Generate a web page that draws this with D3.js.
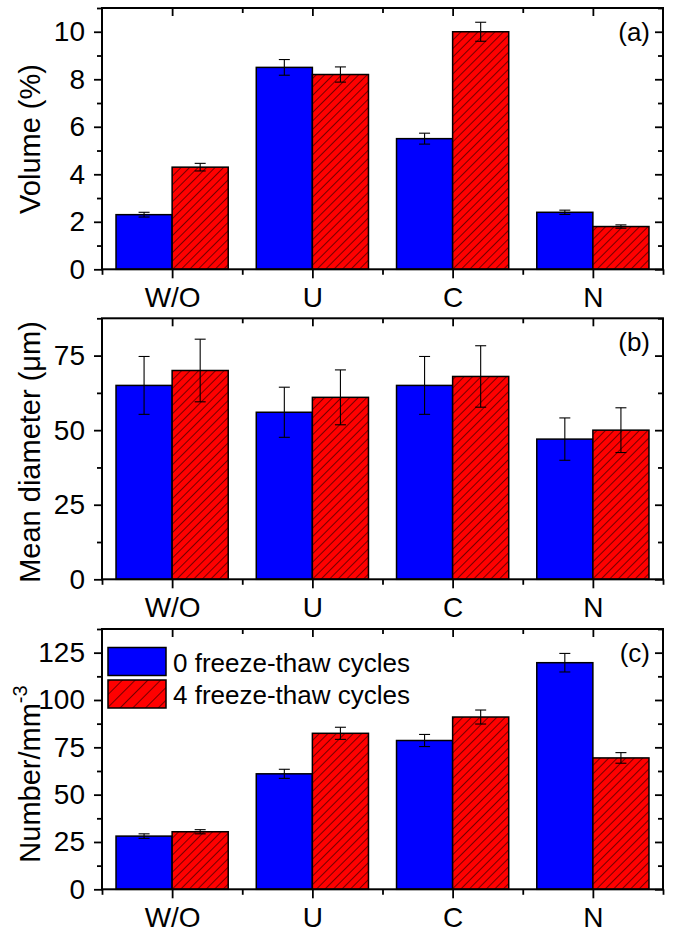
<!DOCTYPE html>
<html>
<head>
<meta charset="utf-8">
<script src="https://cdn.jsdelivr.net/npm/d3@7"></script>
<style>
  html, body { margin: 0; padding: 0; background: #fff; }
  svg { display: block; }
  text { font-family: "Liberation Sans", Arial, sans-serif; fill: #000; }
</style>
</head>
<body>
<svg id="chart" width="675" height="932"></svg>
<script>
// ---------- data ----------
const categories = ["W/O", "U", "C", "N"];
const seriesNames = ["0 freeze-thaw cycles", "4 freeze-thaw cycles"];

const volume0 = [2.3, 8.5, 5.5, 2.4];
const volume0Err = [0.1, 0.33, 0.23, 0.09];
const volume4 = [4.3, 8.2, 10.0, 1.8];
const volume4Err = [0.16, 0.32, 0.4, 0.07];

const diameter0 = [65, 56, 65, 47];
const diameter0Err = [9.7, 8.4, 9.7, 7.1];
const diameter4 = [70, 61, 68, 50];
const diameter4Err = [10.5, 9.2, 10.3, 7.5];

const number0 = [28.1, 61, 78.6, 119.7];
const number0Err = [1.2, 2.4, 3.2, 4.9];
const number4 = [30.4, 82.4, 91, 69.4];
const number4Err = [1.1, 3.2, 3.7, 2.8];

const volumeTicks = [0, 2, 4, 6, 8, 10];
const diameterTicks = [0, 25, 50, 75];
const numberTicks = [0, 25, 50, 75, 100, 125];

// ---------- layout ----------
const svg = d3.select("#chart");
const X0 = 102, X1 = 663;
const panels = [
  { top: 8, bottom: 269.3, max: 11, ticks: volumeTicks, minorStep: 1, v0: volume0, e0: volume0Err, v4: volume4, e4: volume4Err, label: "(a)", title: "Volume (%)", titleY: 139, legend: false },
  { top: 318.3, bottom: 579.3, max: 87.5, ticks: diameterTicks, minorStep: 12.5, v0: diameter0, e0: diameter0Err, v4: diameter4, e4: diameter4Err, label: "(b)", title: "Mean diameter (μm)", titleY: 452, legend: false },
  { top: 629, bottom: 889.3, max: 137.5, ticks: numberTicks, minorStep: 12.5, v0: number0, e0: number0Err, v4: number4, e4: number4Err, label: "(c)", title: "Number/mm", sup: "-3", titleY: 774, legend: true }
];

const BLUE = "#0000ff", RED = "#ff0000";

const defs = svg.append("defs");
function hatch(id, size) {
  const p = defs.append("pattern").attr("id", id)
    .attr("patternUnits", "userSpaceOnUse")
    .attr("width", size).attr("height", size)
    .attr("patternTransform", "rotate(45)");
  p.append("rect").attr("width", size).attr("height", size).attr("fill", RED);
  p.append("line").attr("x1", 0).attr("y1", 0).attr("x2", 0).attr("y2", size)
    .attr("stroke", "#000").attr("stroke-width", 1.1);
}
hatch("hatchBar", 6);
hatch("hatchLeg", 9);

const x = d3.scaleLinear().domain([0.5, 4.5]).range([X0, X1]);
const barW = 0.4;
const majorX = d3.range(1, 5);
const minorX = [0.5, 1.5, 2.5, 3.5, 4.5];

panels.forEach(P => {
  const y = d3.scaleLinear().domain([0, P.max]).range([P.bottom, P.top]);
  const g = svg.append("g");
  const minorY = d3.range(P.minorStep === 1 ? 1 : P.minorStep, P.max + 0.001, P.minorStep)
    .filter(v => !P.ticks.some(t => Math.abs(t - v) < 1e-6));

  // bars
  const data0 = categories.map((c, i) => ({ i: i + 1, v: P.v0[i], e: P.e0[i] }));
  const data4 = categories.map((c, i) => ({ i: i + 1, v: P.v4[i], e: P.e4[i] }));
  g.selectAll(".b0").data(data0).enter().append("rect")
    .attr("x", d => x(d.i - barW)).attr("width", d => x(d.i) - x(d.i - barW))
    .attr("y", d => y(d.v)).attr("height", d => y(0) - y(d.v))
    .attr("fill", BLUE).attr("stroke", "#000").attr("stroke-width", 1.5);
  g.selectAll(".b4").data(data4).enter().append("rect")
    .attr("x", d => x(d.i)).attr("width", d => x(d.i + barW) - x(d.i))
    .attr("y", d => y(d.v)).attr("height", d => y(0) - y(d.v))
    .attr("fill", "url(#hatchBar)").attr("stroke", "#000").attr("stroke-width", 1.5);

  // error bars
  const errs = data0.map(d => ({ cx: d.i - barW / 2, v: d.v, e: d.e }))
    .concat(data4.map(d => ({ cx: d.i + barW / 2, v: d.v, e: d.e })));
  const cap = 5.5;
  errs.forEach(d => {
    const cx = x(d.cx);
    const eg = g.append("g").attr("stroke", "#000").attr("stroke-width", 1.1);
    eg.append("line").attr("x1", cx).attr("x2", cx).attr("y1", y(d.v + d.e)).attr("y2", y(d.v - d.e));
    eg.append("line").attr("x1", cx - cap).attr("x2", cx + cap).attr("y1", y(d.v + d.e)).attr("y2", y(d.v + d.e));
    eg.append("line").attr("x1", cx - cap).attr("x2", cx + cap).attr("y1", y(d.v - d.e)).attr("y2", y(d.v - d.e));
  });

  // axes
  const styleAxis = sel => {
    sel.select(".domain").remove();
    sel.selectAll("line").attr("stroke", "#000").attr("stroke-width", 1.8);
    sel.selectAll("text").attr("font-size", 28).attr("font-family", "'Liberation Sans', Arial, sans-serif").attr("fill", "#000");
  };
  // left major with labels
  g.append("g").attr("transform", `translate(${X0},0)`)
    .call(d3.axisLeft(y).tickValues(P.ticks).tickSize(8).tickPadding(9).tickFormat(d3.format("d")))
    .call(styleAxis);
  g.append("g").attr("transform", `translate(${X0},0)`)
    .call(d3.axisLeft(y).tickValues(minorY).tickSize(5).tickFormat(""))
    .call(styleAxis);
  // right (inward)
  g.append("g").attr("transform", `translate(${X1},0)`)
    .call(d3.axisLeft(y).tickValues(P.ticks).tickSize(8).tickFormat(""))
    .call(styleAxis);
  g.append("g").attr("transform", `translate(${X1},0)`)
    .call(d3.axisLeft(y).tickValues(minorY).tickSize(5).tickFormat(""))
    .call(styleAxis);
  // bottom
  g.append("g").attr("transform", `translate(0,${P.bottom})`)
    .call(d3.axisBottom(x).tickValues(majorX).tickSize(9).tickPadding(9).tickFormat(d => categories[d - 1]))
    .call(styleAxis);
  g.append("g").attr("transform", `translate(0,${P.bottom})`)
    .call(d3.axisBottom(x).tickValues(minorX).tickSize(5.5).tickFormat(""))
    .call(styleAxis);
  // top (inward)
  g.append("g").attr("transform", `translate(0,${P.top})`)
    .call(d3.axisBottom(x).tickValues(majorX).tickSize(8).tickFormat(""))
    .call(styleAxis);
  g.append("g").attr("transform", `translate(0,${P.top})`)
    .call(d3.axisBottom(x).tickValues(minorX.slice(1, 4)).tickSize(5).tickFormat(""))
    .call(styleAxis);

  // frame
  g.append("rect").attr("x", X0).attr("y", P.top).attr("width", X1 - X0).attr("height", P.bottom - P.top)
    .attr("fill", "none").attr("stroke", "#000").attr("stroke-width", 2);

  // panel label
  g.append("text").attr("x", 650).attr("y", P.top + 33).attr("text-anchor", "end")
    .attr("font-size", 26).text(P.label);

  // y title
  const t = g.append("text").attr("transform", `translate(40,${P.titleY}) rotate(-90)`)
    .attr("text-anchor", "middle").attr("font-size", 29).text(P.title);
  if (P.sup) {
    t.append("tspan").attr("font-size", 20).attr("dy", -13).text(P.sup);
  }

  // legend
  if (P.legend) {
    const lg = g.append("g");
    const rows = [{ fill: BLUE, name: seriesNames[0], y: 647.5 }, { fill: "url(#hatchLeg)", name: seriesNames[1], y: 680 }];
    rows.forEach(r => {
      lg.append("rect").attr("x", 108).attr("y", r.y).attr("width", 58).attr("height", 28)
        .attr("fill", r.fill).attr("stroke", "#000").attr("stroke-width", 1.5);
      lg.append("text").attr("x", 173).attr("y", r.y + 24).attr("font-size", 26).text(r.name);
    });
  }
});
</script>
</body>
</html>
